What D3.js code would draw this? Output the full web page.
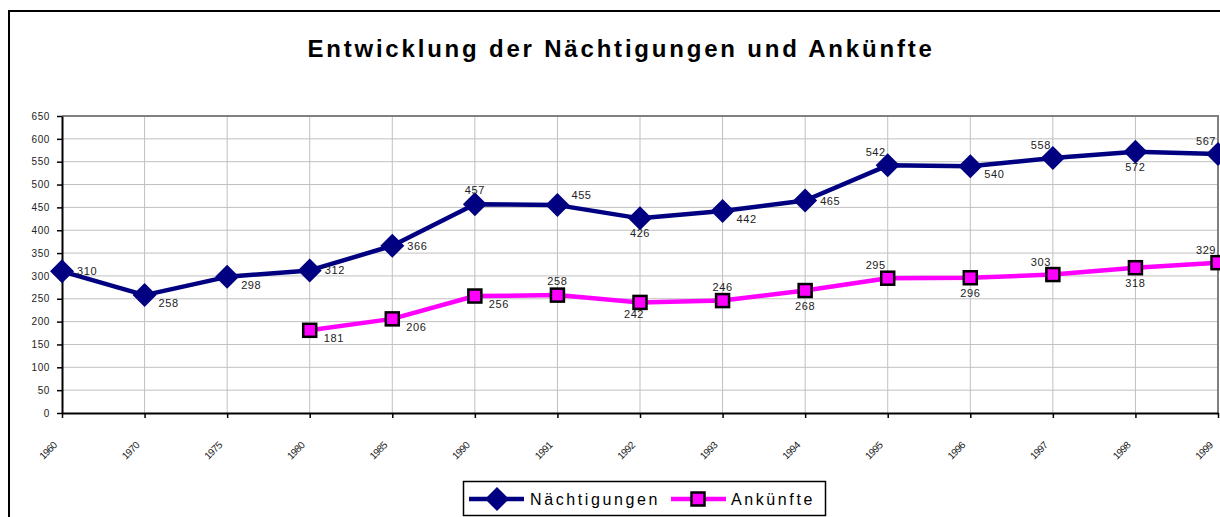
<!DOCTYPE html>
<html>
<head>
<meta charset="utf-8">
<script src="https://cdn.jsdelivr.net/npm/d3@7"></script>
<style>
  html, body { margin: 0; padding: 0; background: #fff; }
  svg { display: block; font-family: "Liberation Sans", Arial, sans-serif; }
</style>
</head>
<body>
<div id="chart"></div>
<script>
var years = ['1960', '1970', '1975', '1980', '1985', '1990', '1991', '1992', '1993', '1994', '1995', '1996', '1997', '1998', '1999']
var naechtigungen = [310, 258, 298, 312, 366, 457, 455, 426, 442, 465, 542, 540, 558, 572, 567]
var ankuenfte = [null, null, null, 181, 206, 256, 258, 242, 246, 268, 295, 296, 303, 318, 329]
var yTicks = [0, 50, 100, 150, 200, 250, 300, 350, 400, 450, 500, 550, 600, 650]

// where each data label sits relative to its point
var nLabelPos = ['r', 'rb', 'rb', 'r', 'r', 't', 'rt', 'b', 'rb', 'r', 'lt', 'rb', 'lt', 'b', 'lt']
var aLabelPos = [null, null, null, 'rb', 'rb', 'rb', 't', 'lb', 't', 'b', 'lt', 'b', 'lt', 'b', 'lt']

var width = 1220, height = 517,
    plot = {left: 62, right: 1218, top: 116, bottom: 413},
    colors = {
        naecht: '#000080',
        ank: '#ff00ff',
        grid: '#c0c0c0',
        frame: '#808080',
        text: '#222'
    }

var svg = d3.select('#chart').append('svg')
    .attr('width', width)
    .attr('height', height)

// outer chart frame (continues past right/bottom edge)
svg.append('path')
    .attr('d', 'M9,' + (height + 5) + 'V11H' + (width + 5))
    .attr('fill', 'none')
    .attr('stroke', '#000')
    .attr('stroke-width', 2)

svg.append('text')
    .attr('x', 621)
    .attr('y', 57)
    .attr('text-anchor', 'middle')
    .attr('font-size', 24)
    .attr('font-weight', 'bold')
    .attr('letter-spacing', 2.8)
    .attr('fill', '#000')
    .text('Entwicklung der Nächtigungen und Ankünfte')

var x = d3.scalePoint()
    .domain(years)
    .range([plot.left, plot.right])

var y = d3.scaleLinear()
    .domain([0, 650])
    .range([plot.bottom, plot.top])

// grid
var grid = svg.append('g')
grid.selectAll('.hg').data(yTicks.slice(1)).enter().append('line')
    .attr('x1', plot.left).attr('x2', plot.right)
    .attr('y1', function(d) { return y(d) }).attr('y2', function(d) { return y(d) })
    .attr('stroke', colors.grid)
    .attr('stroke-width', 1)
grid.selectAll('.vg').data(years.slice(1)).enter().append('line')
    .attr('x1', function(d) { return x(d) }).attr('x2', function(d) { return x(d) })
    .attr('y1', plot.top).attr('y2', plot.bottom)
    .attr('stroke', colors.grid)
    .attr('stroke-width', 1)

// plot frame top / right
svg.append('path')
    .attr('d', 'M' + plot.left + ',' + plot.top + 'H' + plot.right + 'V' + plot.bottom)
    .attr('fill', 'none')
    .attr('stroke', colors.frame)
    .attr('stroke-width', 2)

// axes
var yAxis = svg.append('g')
    .attr('transform', 'translate(' + plot.left + ',0)')
    .call(d3.axisLeft(y).tickValues(yTicks).tickSize(5).tickSizeOuter(0).tickPadding(4))
yAxis.select('.domain').attr('stroke', '#000').attr('stroke-width', 2)
yAxis.selectAll('.tick line').attr('stroke', '#000').attr('stroke-width', 1.5)
yAxis.selectAll('.tick text')
    .attr('font-family', '"Liberation Sans", Arial, sans-serif')
    .attr('font-size', 10)
    .attr('letter-spacing', 0.6)
    .attr('fill', '#222')
    .attr('dx', -3)

var xAxis = svg.append('g')
    .attr('transform', 'translate(0,' + plot.bottom + ')')
    .call(d3.axisBottom(x).tickSize(5).tickSizeOuter(0))
xAxis.select('.domain').attr('stroke', '#000').attr('stroke-width', 2)
xAxis.selectAll('.tick line').attr('stroke', '#000').attr('stroke-width', 1.5)
xAxis.selectAll('.tick text')
    .attr('font-family', '"Liberation Sans", Arial, sans-serif')
    .attr('font-size', 10)
    .attr('letter-spacing', -0.6)
    .attr('fill', '#222')
    .attr('text-anchor', 'end')
    .attr('x', 0)
    .attr('y', 0)
    .attr('dy', null)
    .attr('transform', 'translate(-5,33) rotate(-45)')

// series
var line = d3.line()
    .defined(function(d) { return d != null })
    .x(function(d, i) { return x(years[i]) })
    .y(function(d) { return y(d) })

svg.append('path')
    .datum(naechtigungen)
    .attr('d', line)
    .attr('fill', 'none')
    .attr('stroke', colors.naecht)
    .attr('stroke-width', 4.5)
    .attr('stroke-linejoin', 'round')

svg.append('path')
    .datum(ankuenfte)
    .attr('d', line)
    .attr('fill', 'none')
    .attr('stroke', colors.ank)
    .attr('stroke-width', 4.5)
    .attr('stroke-linejoin', 'round')

var diamond = 'M0,-12L12,0L0,12L-12,0Z'

svg.append('g').selectAll('path').data(naechtigungen).enter().append('path')
    .attr('d', diamond)
    .attr('transform', function(d, i) { return 'translate(' + x(years[i]) + ',' + y(d) + ')' })
    .attr('fill', colors.naecht)

var ankPts = ankuenfte.map(function(d, i) { return {v: d, i: i} })
    .filter(function(d) { return d.v != null })

svg.append('g').selectAll('rect').data(ankPts).enter().append('rect')
    .attr('x', function(d) { return x(years[d.i]) - 6.5 })
    .attr('y', function(d) { return y(d.v) - 6.5 })
    .attr('width', 13)
    .attr('height', 13)
    .attr('fill', colors.ank)
    .attr('stroke', '#000')
    .attr('stroke-width', 2.5)

// data labels
var offsets = {
    r: [15, 4, 'start'],
    rb: [14, 12, 'start'],
    rt: [14, -6, 'start'],
    t: [0, -10, 'middle'],
    b: [0, 19, 'middle'],
    lt: [-12, -9, 'middle'],
    lb: [-6, 16, 'middle']
}

function addLabels(values, pos) {
    var pts = values.map(function(d, i) { return {v: d, i: i} })
        .filter(function(d) { return d.v != null })
    svg.append('g').selectAll('text').data(pts).enter().append('text')
        .attr('x', function(d) { return x(years[d.i]) + offsets[pos[d.i]][0] })
        .attr('y', function(d) { return y(d.v) + offsets[pos[d.i]][1] })
        .attr('text-anchor', function(d) { return offsets[pos[d.i]][2] })
        .attr('font-size', 11)
        .attr('letter-spacing', 0.6)
        .attr('fill', colors.text)
        .text(function(d) { return d.v })
}
addLabels(naechtigungen, nLabelPos)
addLabels(ankuenfte, aLabelPos)

// legend
var legend = svg.append('g')
legend.append('rect')
    .attr('x', 463.5).attr('y', 481.5)
    .attr('width', 362).attr('height', 34)
    .attr('fill', '#fff')
    .attr('stroke', '#000')
    .attr('stroke-width', 1.5)

legend.append('line')
    .attr('x1', 469).attr('x2', 524).attr('y1', 499).attr('y2', 499)
    .attr('stroke', colors.naecht).attr('stroke-width', 4.5)
legend.append('path')
    .attr('d', diamond)
    .attr('transform', 'translate(497,499)')
    .attr('fill', colors.naecht)
legend.append('text')
    .attr('x', 530).attr('y', 505)
    .attr('font-size', 16)
    .attr('letter-spacing', 2.6)
    .attr('fill', '#000')
    .text('Nächtigungen')

legend.append('line')
    .attr('x1', 671).attr('x2', 726).attr('y1', 499).attr('y2', 499)
    .attr('stroke', colors.ank).attr('stroke-width', 4.5)
legend.append('rect')
    .attr('x', 691.5).attr('y', 492.5).attr('width', 13).attr('height', 13)
    .attr('fill', colors.ank)
    .attr('stroke', '#000')
    .attr('stroke-width', 2.5)
legend.append('text')
    .attr('x', 731).attr('y', 505)
    .attr('font-size', 16)
    .attr('letter-spacing', 2.6)
    .attr('fill', '#000')
    .text('Ankünfte')
</script>
</body>
</html>
